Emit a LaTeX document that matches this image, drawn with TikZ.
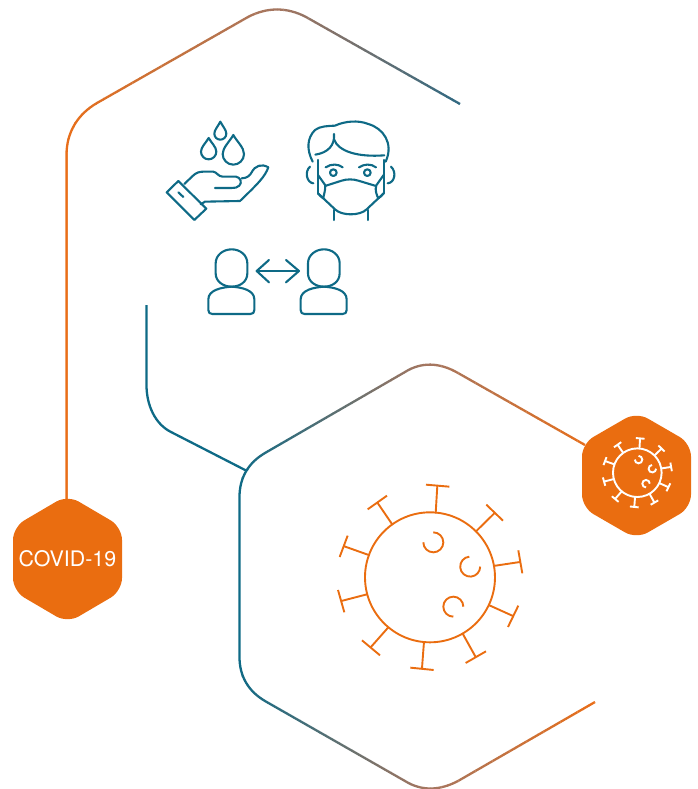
\documentclass[tikz,border=0pt]{standalone}
\usepackage{fontspec}
\setmainfont{TeX Gyre Heros}
\definecolor{tealc}{RGB}{14,106,134}
\definecolor{orangec}{RGB}{234,109,16}
\definecolor{lineorange}{RGB}{234,110,24}
\definecolor{linebrown}{RGB}{165,118,96}
\definecolor{lineslate}{RGB}{48,105,130}
\tikzset{
  ln/.style={line width=2.3pt,line join=round},
  icon/.style={line width=2.1pt,draw=tealc,line cap=round,line join=round},
  vir/.style={line width=1.9pt,line cap=butt},
  hexbadge/.style={fill=orangec,draw=none,rounded corners=13pt},
}
% gradient along x: path drawn repeatedly through vertical clip bands
\newcommand{\gradpath}[5]{% x0, x1, colour at x0, colour at x1, path
  \foreach \i in {0,...,29}{
    \pgfmathsetmacro{\xa}{#1+(#2-#1)/30*\i}
    \pgfmathsetmacro{\xb}{#1+(#2-#1)/30*(\i+1)+0.4}
    \pgfmathtruncatemacro{\pc}{100-100*\i/29}
    \begin{scope}
      \clip (\xa,-5) rectangle (\xb,800);
      \draw[ln,draw=#3!\pc!#4] #5;
    \end{scope}
  }
}
\newcommand{\virus}[1]{%
  \draw[#1] (300,307) circle (195);
  \draw[#1] (317,115)--(322,32) (288,29)--(358,35);
  \draw[#1] (437,170)--(493,115) (469,89)--(519,137);
  \draw[#1] (490,273)--(570,261) (565,226)--(577,295);
  \draw[#1] (476,390)--(549,423) (565,392)--(534,456);
  \draw[#1] (397,474)--(437,546) (407,564)--(468,529);
  \draw[#1] (282,500)--(276,580) (241,578)--(311,585);
  \draw[#1] (175,457)--(122,517) (96,496)--(150,541);
  \draw[#1] (111,358)--(34,378) (24,345)--(43,412);
  \draw[#1] (119,241)--(43,214) (53,182)--(29,246);
  \draw[#1] (188,150)--(143,84) (113,103)--(171,62);
  \draw[#1] (310,172) arc[start angle=-90,end angle=180,radius=30];
  \draw[#1] (418,245) arc[start angle=-95,end angle=-360,radius=30];
  \draw[#1] (370,425) arc[start angle=90,end angle=360,radius=30];
}
\newcommand{\drop}[4]{% cx, cy, r, tip y
  \draw[icon] (#1,#4) .. controls ({#1-0.35*#3},{#4+0.35*(#2-#4)}) and ({#1-#3},{#2-0.6*#3}) .. ({#1-#3},#2)
    arc[start angle=180,end angle=0,radius=#3]
    .. controls ({#1+#3},{#2-0.6*#3}) and ({#1+0.35*#3},{#4+0.35*(#2-#4)}) .. (#1,#4) -- cycle;
}
\newcommand{\person}[1]{%
  \begin{scope}[xshift=#1 pt]
  \draw[icon] (62,70) -- (62,100) .. controls (62,125) and (85,140) .. (110,140)
     .. controls (135,140) and (157,125) .. (157,100) -- (157,70)
     .. controls (157,45) and (135,28) .. (110,28) .. controls (85,28) and (62,45) .. (62,70) -- cycle;
  \draw[icon] (110,140) .. controls (80,142) and (40,150) .. (40,178) -- (40,210)
     .. controls (40,218) and (44,222) .. (52,222) -- (166,222)
     .. controls (174,222) and (178,218) .. (178,210) -- (178,178)
     .. controls (178,150) and (140,142) .. (110,140);
  \end{scope}
}
\newcommand{\upperline}{(66.5,500) -- (66.5,155) .. controls (66.5,132) and (78,114) .. (97,103)
   -- (248,17) .. controls (267,7) and (287,7) .. (306,17) -- (460,104)}
\newcommand{\bigline}{(585,445) -- (458,373) .. controls (439,362) and (421,362) .. (405,372)
   -- (265,453) .. controls (248,463) and (239.5,478) .. (239.5,497) -- (239.5,657)
   .. controls (239.5,676) and (248,691) .. (265,701) -- (405,781) .. controls (421,791) and (439,791) .. (458,781) -- (595,702)}
\begin{document}
\begin{tikzpicture}[x=1pt,y=1pt,yscale=-1]
\useasboundingbox (0,0) rectangle (698,789);

% upper hexagon line
\gradpath{60}{277}{lineorange}{linebrown}{\upperline}
\gradpath{277}{465}{linebrown}{lineslate}{\upperline}

% large hexagon line
\gradpath{235}{430}{tealc}{linebrown}{\bigline}
\gradpath{430}{600}{linebrown}{lineorange}{\bigline}

% short teal connector
\coordinate (connA) at (146.5,305);
\coordinate (connB) at (247,471);
\draw[ln,draw=tealc] (connA) -- (146.5,385) .. controls (146.5,405) and (155,424) .. (171,432) -- (connB);

% COVID-19 badge
\fill[hexbadge] (67.5,495) -- (122,527) -- (122,591) -- (67.5,623) -- (13,591) -- (13,527) -- cycle;
\node[text=white,font=\fontsize{21.4}{25}\selectfont,inner sep=0pt] (covid) at (67.5,559) {COVID-19};

% virus badge
\fill[hexbadge] (636.5,412) -- (691,443.5) -- (691,507.5) -- (636.5,539) -- (582,507.5) -- (582,443.5) -- cycle;
\begin{scope}[shift={(637.3,472.7)},scale=0.1247,shift={(-300,-307)}]
  \virus{vir,draw=white}
\end{scope}

% large virus
\begin{scope}[shift={(330,475)},scale=0.3333]
  \virus{vir,draw=orangec}
\end{scope}

% hand and drops
\begin{scope}[shift={(150,110)},scale=0.3333]
  \drop{211}{71}{18}{35}
  \drop{176}{125}{23}{84}
  \drop{250}{132}{32}{75}
  \draw[icon] (85,213) -- (169,296) -- (133,330) -- (50,247) -- cycle;
  \draw[icon] (85,247) -- (100,261);
  \draw[icon] (103,222) -- (128,198) .. controls (138,188) and (148,185) .. (160,185) -- (190,185)
     .. controls (200,186) and (205,200) .. (218,200) -- (258,200)
     .. controls (272,202) and (277,218) .. (268,227) .. controls (262,233) and (255,234) .. (245,234) -- (195,234);
  \draw[icon] (275,205) .. controls (290,205) and (300,197) .. (305,187)
     .. controls (315,167) and (335,160) .. (355,172)
     .. controls (345,200) and (325,220) .. (270,273) -- (165,275) -- (152,283);
\end{scope}

% masked face
\begin{scope}[shift={(290,110)},scale=0.3333]
  \draw[icon] (68,155) .. controls (50,120) and (50,85) .. (75,60)
     .. controls (90,48) and (115,48) .. (135,47)
     .. controls (165,33) and (205,30) .. (235,42)
     .. controls (280,55) and (312,100) .. (287,155);
  \draw[icon] (76,134) .. controls (115,128) and (135,105) .. (132,72);
  \draw[icon] (132,88) .. controls (145,125) and (205,142) .. (283,136);
  \draw[icon] (60,170) .. controls (43,185) and (50,218) .. (70,220);
  \draw[icon] (303,170) .. controls (320,185) and (315,218) .. (293,220);
  \draw[icon] (84,150) -- (84,250);
  \draw[icon] (281,150) -- (281,250);
  \draw[icon] (105,228) -- (155,212) .. controls (170,207) and (190,207) .. (205,212) -- (258,228);
  \draw[icon] (84,195) -- (106,226) .. controls (106,245) and (100,258) .. (100,265) .. controls (95,262) and (88,256) .. (84,250);
  \draw[icon] (281,195) -- (259,226) .. controls (254,240) and (260,255) .. (265,265) .. controls (270,262) and (277,256) .. (281,250);
  \draw[icon] (84,250) -- (135,298) .. controls (155,318) and (210,318) .. (230,298) -- (281,250);
  \draw[icon] (132,300) -- (132,330);
  \draw[icon] (233,300) -- (233,330);
  \draw[icon] (130,188) circle (10);
  \draw[icon] (232,188) circle (10);
  \draw[icon] (107,172) .. controls (125,160) and (145,162) .. (158,172);
  \draw[icon] (207,172) .. controls (222,162) and (242,160) .. (258,172);
\end{scope}

% two people with double arrow
\begin{scope}[shift={(195,240)},scale=0.3333]
  \person{0}
  \person{277}
  \draw[icon] (187,93) -- (311,93);
  \draw[icon] (222,60) -- (185,93) -- (222,127);
  \draw[icon] (273,60) -- (312,93) -- (273,127);
\end{scope}
\end{tikzpicture}
\end{document}
